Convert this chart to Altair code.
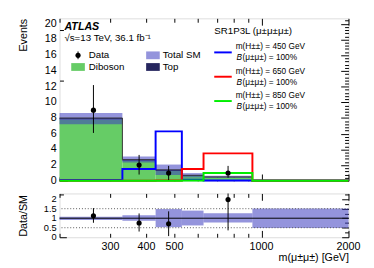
import altair as alt
import pandas as pd

# ---------------- data ----------------
edges = [200, 330, 430, 530, 630, 930, 2000]
diboson = [7.8, 2.55, 1.25, 0.62, 0.45, 0.09]
top = [0.2, 0.15, 0.15, 0.08, 0.05, 0.01]
band_lo = [0.90, 0.87, 0.53, 0.62, 0.78, 0.48]   # relative SM uncertainty band
band_hi = [1.08, 1.15, 1.48, 1.40, 1.26, 1.51]
sig450 = [0.1, 1.5, 6.3, 0.15, 0.05, 0.0]
sig650 = [0.0, 0.02, 0.05, 1.5, 3.5, 0.0]
sig850 = [0.0, 0.0, 0.0, 0.05, 1.0, 0.0]
data_m = [262, 377, 477, 766]
data_n = [9, 2, 1, 1]
data_dn = [2.9, 1.2, 0.9, 0.6]
data_up = [3.2, 1.3, 0.9, 0.9]
ratio_v = [1.13, 0.75, 0.71, 1.98]
ratio_dn = [0.37, 0.45, 0.65, 1.62]
ratio_up = [0.40, 0.50, 0.65, 1.5]
ref_lines = [0.5, 1.5]

x_ticks = [200, 300, 400, 500, 600, 700, 800, 900, 1000, 2000]
x_labels = [300, 400, 500, 1000, 2000]
y_labels = [0, 2, 4, 6, 8, 10, 12, 14, 16, 18, 20]
r_labels = [0, 0.5, 1, 1.5, 2]
r_label_text = ["0", "0.5", "1", "1.5", "2"]
y_ticks = [round(0.4 * i, 1) for i in range(52)]
r_ticks = [round(0.25 * i, 2) for i in range(10)]

FONT = "Liberation Sans"
HATCH = "#3c3cc0"
W, H1, H2 = 297, 167, 45

bins = pd.DataFrame({
    "lo": edges[:-1], "hi": edges[1:],
    "dib": diboson,
    "tot": [d + t for d, t in zip(diboson, top)],
})
bins["ulo"] = bins["tot"] * pd.Series(band_lo)
bins["uhi"] = bins["tot"] * pd.Series(band_hi)
bins["rlo"] = band_lo
bins["rhi"] = band_hi
bins["zero"] = 0.0

steps = pd.DataFrame({
    "m": edges,
    "tot": list(bins["tot"]) + [bins["tot"].iloc[-1]],
    "s450": sig450 + [sig450[-1]],
    "s650": sig650 + [sig650[-1]],
    "s850": sig850 + [sig850[-1]],
})
steps_long = steps.melt(id_vars="m", value_vars=["s450", "s650", "s850"],
                        var_name="sig", value_name="v")

pts = pd.DataFrame({"m": data_m, "n": data_n,
                    "nlo": [n - d for n, d in zip(data_n, data_dn)],
                    "nhi": [n + u for n, u in zip(data_n, data_up)],
                    "r": ratio_v,
                    "rlo": [r - d for r, d in zip(ratio_v, ratio_dn)],
                    "rhi": [r + u for r, u in zip(ratio_v, ratio_up)]})

xs = alt.Scale(type="log", domain=[200, 2000], nice=False)
ys = alt.Scale(domain=[0, 20.7], nice=False)
rs = alt.Scale(domain=[0, 2.3], nice=False)

major_y = "abs(datum.value/2 - round(datum.value/2)) < 0.01"
major_r = "abs(datum.value*2 - round(datum.value*2)) < 0.01"
major_x = "datum.value == 1000 || datum.value == 2000"


def cond(test, a, b):
    return {"condition": {"test": test, "value": a}, "value": b}


common_axis = dict(labelFont=FONT, titleFont=FONT, labelFontSize=11, titleFontSize=11,
                   titleFontWeight="normal", labelColor="black", titleColor="black",
                   tickColor="black", domain=False, grid=False, labels=False)

x_main_axis = alt.Axis(values=x_ticks, title=None, tickSize=cond(major_x, -7, -4), **common_axis)
x_main_top = alt.Axis(values=x_ticks, title=None, orient="top",
                      tickSize=cond(major_x, -7, -4), **common_axis)
y_main_axis = alt.Axis(values=y_ticks, title="Events", titleAngle=270, titleAlign="right",
                       titleX=-37, titleY=0, titleBaseline="middle",
                       tickSize=cond(major_y, -8, -4), **common_axis)
y_main_right = alt.Axis(values=y_ticks, title=None, orient="right",
                        tickSize=cond(major_y, -8, -4), **common_axis)

# ---------------- main panel ----------------
dib_rect = alt.Chart(bins).mark_rect(color="#66cc66").encode(
    x=alt.X("lo:Q", scale=xs, axis=x_main_axis), x2="hi:Q",
    y=alt.Y("zero:Q", scale=ys, axis=y_main_axis), y2="dib:Q")
top_rect = alt.Chart(bins).mark_rect(color="#26265e").encode(
    x=alt.X("lo:Q", scale=xs), x2="hi:Q", y=alt.Y("dib:Q", scale=ys), y2="tot:Q")
tot_line = alt.Chart(steps).mark_line(interpolate="step-after", color="#333333",
                                      strokeWidth=1).encode(
    x=alt.X("m:Q", scale=xs), y=alt.Y("tot:Q", scale=ys))
unc_rect = alt.Chart(bins).mark_rect(color=HATCH, opacity=0.55).encode(
    x=alt.X("lo:Q", scale=xs), x2="hi:Q", y=alt.Y("ulo:Q", scale=ys), y2="uhi:Q")
sig_lines = alt.Chart(steps_long).mark_line(interpolate="step-after", strokeWidth=2).encode(
    x=alt.X("m:Q", scale=xs), y=alt.Y("v:Q", scale=ys),
    color=alt.Color("sig:N", scale=alt.Scale(domain=["s850", "s650", "s450"],
                                             range=["#00ee00", "#ff0000", "#0000ff"]),
                    legend=None),
    order=alt.Order("sig:N", sort="descending"))
err = alt.Chart(pts).mark_rule(color="black", strokeWidth=1).encode(
    x=alt.X("m:Q", scale=xs), y=alt.Y("nlo:Q", scale=ys), y2="nhi:Q")
dots = alt.Chart(pts).mark_point(filled=True, color="black", size=28, opacity=1).encode(
    x=alt.X("m:Q", scale=xs), y=alt.Y("n:Q", scale=ys))
y_lab = alt.Chart(pd.DataFrame({"v": y_labels})).mark_text(
    font=FONT, fontSize=11, align="right", baseline="middle", color="black").encode(
    x=alt.value(-3), y=alt.Y("v:Q", scale=ys), text=alt.Text("v:Q", format="d"))

one = pd.DataFrame({"a": [0]})


def txt(s, x, y, size=10, **kw):
    return alt.Chart(one).mark_text(font=FONT, fontSize=size, align="left",
                                    baseline="middle", color="black", **kw).encode(
        x=alt.value(x), y=alt.value(y), text=alt.value(s))


def box(x, y, w, h, color, opacity=1.0):
    return alt.Chart(one).mark_rect(color=color, opacity=opacity).encode(
        x=alt.value(x), x2=alt.value(x + w), y=alt.value(y), y2=alt.value(y + h))


def seg(x, y, color):
    return alt.Chart(one).mark_rule(color=color, strokeWidth=2).encode(
        x=alt.value(x), x2=alt.value(x + 18), y=alt.value(y))


legend_layers = [
    txt("ATLAS", 5, 9, size=11, fontWeight="bold", fontStyle="italic"),
    txt("\u221As=13 TeV, 36.1 fb\u207B\u00B9", 5, 20, size=10),
    alt.Chart(one).mark_point(filled=True, color="black", size=28, opacity=1).encode(
        x=alt.value(19), y=alt.value(38)),
    alt.Chart(one).mark_rule(color="black").encode(x=alt.value(19), y=alt.value(34), y2=alt.value(42)),
    txt("Data", 30, 38),
    box(12, 46, 14, 8, "#66cc66"),
    txt("Diboson", 30, 50),
    box(89, 34, 14, 8, HATCH, 0.55),
    txt("Total SM", 106, 38),
    box(89, 46, 14, 8, "#26265e"),
    txt("Top", 106, 50),
    txt("SR1P3L (\u03bc\u00b1\u03bc\u00b1\u03bc\u00b1)", 159, 13, size=10),
]
for i, (mass, col) in enumerate([("450", "#0000ff"), ("650", "#ff0000"), ("850", "#00ee00")]):
    dy = 25 * i
    legend_layers += [
        seg(159, 35 + dy, col),
        txt(f"m(H\u00b1\u00b1) = {mass} GeV", 181, 29 + dy, size=8.5),
        txt("B", 182, 40 + dy, size=8.5, fontStyle="italic"),
        txt("(\u03bc\u00b1\u03bc\u00b1) = 100%", 188, 40 + dy, size=8.5),
    ]

main_inner = alt.layer(dib_rect, top_rect, unc_rect, tot_line, sig_lines, err, dots, y_lab,
                       *legend_layers)
main_mirror = alt.Chart(bins).mark_rect(opacity=0).encode(
    x=alt.X("lo:Q", scale=xs, axis=x_main_top), x2="hi:Q",
    y=alt.Y("zero:Q", scale=ys, axis=y_main_right), y2="dib:Q")
main = alt.layer(main_inner, main_mirror).resolve_axis(
    x="independent", y="independent").properties(width=W, height=H1)

# ---------------- ratio panel ----------------
x_r_axis = alt.Axis(values=x_ticks, title="m(\u03bc\u00b1\u03bc\u00b1) [GeV]",
                    titleAnchor="end", titleAlign="right", titleX=W, titleY=21,
                    titleBaseline="middle", tickSize=cond(major_x, -7, -4), **common_axis)
x_r_top = alt.Axis(values=x_ticks, title=None, orient="top",
                   tickSize=cond(major_x, -7, -4), **common_axis)
y_r_axis = alt.Axis(values=r_ticks, title="Data/SM", titleAngle=270, titleX=-37,
                    titleBaseline="middle", tickSize=cond(major_r, -7, -4), **common_axis)
y_r_right = alt.Axis(values=r_ticks, title=None, orient="right",
                     tickSize=cond(major_r, -7, -4), **common_axis)

r_band = alt.Chart(bins).mark_rect(color=HATCH, opacity=0.55).encode(
    x=alt.X("lo:Q", scale=xs, axis=x_r_axis), x2="hi:Q",
    y=alt.Y("rlo:Q", scale=rs, axis=y_r_axis), y2="rhi:Q")
r_ref = alt.Chart(pd.DataFrame({"v": ref_lines})).mark_rule(
    color="#555555", strokeDash=[1, 2], strokeWidth=1).encode(y=alt.Y("v:Q", scale=rs))
r_one = alt.Chart(pd.DataFrame({"v": [1.0]})).mark_rule(color="black", strokeWidth=1).encode(
    y=alt.Y("v:Q", scale=rs))
r_err = alt.Chart(pts).mark_rule(color="black", strokeWidth=1, clip=True).encode(
    x=alt.X("m:Q", scale=xs), y=alt.Y("rlo:Q", scale=rs), y2="rhi:Q")
r_dots = alt.Chart(pts).mark_point(filled=True, color="black", size=28, opacity=1).encode(
    x=alt.X("m:Q", scale=xs), y=alt.Y("r:Q", scale=rs))
r_ylab = alt.Chart(pd.DataFrame({"v": r_labels, "t": r_label_text})).mark_text(
    font=FONT, fontSize=9.5, align="right", baseline="middle", color="black").encode(
    x=alt.value(-3), y=alt.Y("v:Q", scale=rs), text="t:N")
r_xlab = alt.Chart(pd.DataFrame({"v": x_labels})).mark_text(
    font=FONT, fontSize=11, align="center", baseline="middle", color="black").encode(
    x=alt.X("v:Q", scale=xs), y=alt.value(H2 + 10), text=alt.Text("v:Q", format="d"))

ratio_inner = alt.layer(r_band, r_ref, r_one, r_err, r_dots, r_ylab, r_xlab)
ratio_mirror = alt.Chart(bins).mark_rect(opacity=0).encode(
    x=alt.X("lo:Q", scale=xs, axis=x_r_top), x2="hi:Q",
    y=alt.Y("rlo:Q", scale=rs, axis=y_r_right), y2="rhi:Q")
ratio = alt.layer(ratio_inner, ratio_mirror).resolve_axis(
    x="independent", y="independent").properties(width=W, height=H2)

chart = alt.vconcat(main, ratio, spacing=6).properties(
    padding={"left": 9, "top": 6, "right": 5, "bottom": 2}
).configure_view(stroke="black", strokeWidth=1).configure(background="white")

chart.save("out.html", embed_options={"renderer": "svg", "actions": False})
